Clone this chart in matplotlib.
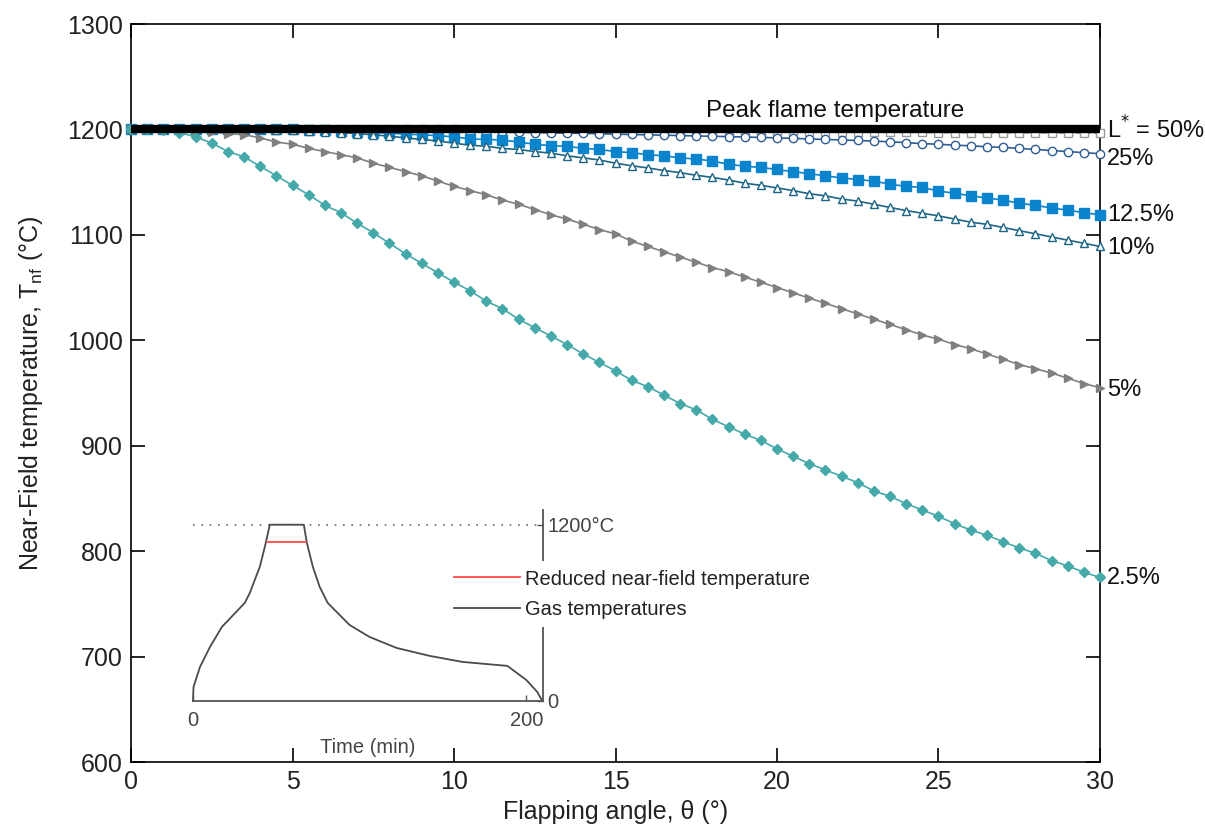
import numpy as np
import matplotlib
matplotlib.use("Agg")
import matplotlib.pyplot as plt
import matplotlib.transforms as mtransforms

plt.rcParams['font.family'] = ['Liberation Sans', 'DejaVu Sans']

# ---------------- data ----------------
theta = np.arange(0, 30.5, 0.5)  # flapping angle (deg), 61 points

T_50 = [1200, 1200, 1200, 1200, 1200, 1200, 1200, 1200, 1200, 1200,
        1200, 1200, 1200, 1200, 1200, 1200, 1200, 1200, 1200, 1200,
        1200, 1199.9, 1199.8, 1199.7, 1199.6, 1199.5, 1199.4, 1199.3, 1199.2, 1199.1,
        1199, 1198.9, 1198.8, 1198.7, 1198.6, 1198.5, 1198.4, 1198.3, 1198.2, 1198.1,
        1198, 1197.9, 1197.8, 1197.7, 1197.6, 1197.5, 1197.4, 1197.3, 1197.2, 1197.1,
        1197, 1196.9, 1196.9, 1196.8, 1196.8, 1196.7, 1196.7, 1196.6, 1196.6, 1196.5,
        1196.5]
T_25 = [1200, 1200, 1200, 1200, 1200, 1200, 1200, 1200, 1200, 1200,
        1200, 1199.8, 1199.6, 1199.4, 1199.2, 1199, 1198.8, 1198.6, 1198.4, 1198.2,
        1198, 1197.8, 1197.6, 1197.4, 1197.2, 1197, 1196.8, 1196.5, 1196.2, 1196,
        1195.5, 1195.2, 1194.8, 1194.5, 1194.2, 1193.8, 1193.5, 1193.2, 1192.8, 1192.4,
        1192, 1191.5, 1191, 1190.5, 1190, 1189.5, 1189, 1188.2, 1187.5, 1186.5,
        1186, 1185, 1184.5, 1183.5, 1183, 1182, 1181, 1180, 1179, 1178,
        1177]
T_125 = [1200, 1200, 1200, 1200, 1200, 1200, 1200, 1200, 1200, 1200,
         1200, 1199.5, 1199, 1198.5, 1198, 1197, 1196.5, 1195.5, 1195, 1194,
         1193, 1191, 1190.5, 1190, 1188, 1186, 1184.5, 1184, 1182, 1181,
         1179, 1178, 1176, 1175, 1173, 1172, 1170, 1167, 1165, 1164,
         1162, 1160, 1158, 1156, 1154, 1152.5, 1151, 1148, 1146, 1145,
         1141.5, 1139.5, 1137, 1135, 1133, 1130, 1128, 1125.5, 1123.5, 1121,
         1119]
T_10 = [1200, 1200, 1200, 1200, 1200, 1200, 1200, 1200, 1200, 1199.5,
        1199, 1198.5, 1198, 1197, 1196, 1195, 1193.5, 1192, 1190.5, 1189,
        1187, 1185, 1184, 1182, 1181, 1179, 1177.5, 1175, 1173, 1171,
        1168, 1165.5, 1163.5, 1161, 1159, 1156.5, 1154.5, 1152, 1149, 1147,
        1144.5, 1142, 1139, 1137, 1134, 1132, 1129, 1126, 1123, 1120.5,
        1118, 1115, 1112, 1110, 1107, 1104, 1101, 1098, 1095, 1092,
        1089]
T_5 = [1200, 1200, 1200, 1199.5, 1198.5, 1197.5, 1196, 1195, 1192, 1188,
       1186, 1182, 1179, 1176, 1173, 1168, 1164, 1160, 1156, 1151,
       1146, 1142, 1138, 1133, 1129, 1124, 1119, 1115, 1110, 1105,
       1101, 1094, 1089, 1084, 1079, 1074, 1069, 1065, 1060, 1055,
       1050, 1045, 1040, 1035, 1030, 1025, 1020, 1015, 1010, 1005,
       1001, 996, 992, 987, 982, 977, 973, 969, 964, 959,
       955]
T_25p = [1200, 1200, 1199.5, 1197, 1193, 1187, 1179, 1174, 1165, 1156,
         1147, 1138, 1128, 1121, 1111, 1102, 1092, 1082, 1073, 1064,
         1055, 1047, 1037, 1030, 1020, 1012, 1004, 996, 987, 979,
         971, 962, 956, 948, 940, 934, 925, 918, 911, 905,
         897, 890, 883, 877, 871, 865, 857, 852, 845, 839,
         833, 826, 820, 815, 809, 803, 798, 791, 786, 780,
         775]

peak_T = 1200
series_labels = ["L$^{*}$ = 50%", "25%", "12.5%", "10%", "5%", "2.5%"]

x_ticks = [0, 5, 10, 15, 20, 25, 30]
y_ticks = [600, 700, 800, 900, 1000, 1100, 1200, 1300]

# inset: gas temperature-time curve
gas_time = [0, 0.3, 4.2, 10.2, 17.4, 31.1, 34.1, 40.1, 43.7, 46.1, 66.5, 68.3,
            71.9, 76.0, 80.8, 93.9, 105.9, 122.2, 142.0, 161.7, 188.6, 200.0,
            206.6, 209.6]
gas_temp = [0, 95, 232, 368, 505, 668, 736, 914, 1077, 1200, 1200, 1077,
            914, 777, 668, 518, 436, 361, 307, 266, 239, 143, 61, 0]
reduced_time = [44.3, 67.7]
reduced_temp = [1085, 1085]

# ---------------- figure ----------------
fig = plt.figure(figsize=(12.05, 8.32), dpi=100)
ax = fig.add_axes([131/1205, 1 - 762/832, (1100-131)/1205, (762-24)/832])

styles = [
    dict(color='#9a9a9a', marker='s', mfc='white', mec='#9a9a9a', ms=6, ls='--'),
    dict(color='#2f5d95', marker='o', mfc='white', mec='#2f5d95', ms=6),
    dict(color='#0a84cc', marker='s', mfc='#0a84cc', mec='#0a84cc', ms=7),
    dict(color='#1d6584', marker='^', mfc='white', mec='#1d6584', ms=6),
    dict(color='#808080', marker='>', mfc='#808080', mec='#808080', ms=5.5),
    dict(color='#45a9a9', marker='D', mfc='#45a9a9', mec='#45a9a9', ms=5),
]
all_series = [T_50, T_25, T_125, T_10, T_5, T_25p]
for ys, st in zip(all_series, styles):
    ax.plot(theta, ys, lw=1.2, mew=1.0, clip_on=False, zorder=3, **st)

ax.plot([theta[0], theta[-1]], [peak_T, peak_T], color='black', lw=6,
        solid_capstyle='butt', zorder=4)
ax.text(17.8, 1207, "Peak flame temperature", fontsize=17.5, color='#111111',
        ha='left', va='bottom')

label_dy = [3, -5, 0, -2, -2, 0]  # small vertical nudges in pixels
for ys, lab, dy in zip(all_series, series_labels, label_dy):
    off = mtransforms.offset_copy(ax.transData, fig=fig, x=7, y=dy, units='dots')
    ax.text(theta[-1], ys[-1], lab, transform=off, fontsize=17, color='#111111',
            ha='left', va='center', clip_on=False)

ax.set_xlim(0, 30)
ax.set_ylim(600, 1300)
ax.set_xticks(x_ticks)
ax.set_yticks(y_ticks)
ax.tick_params(direction='in', length=10, width=1.2, top=True, right=True,
               labelsize=18, labelcolor='#222222', pad=6)
for s in ax.spines.values():
    s.set_linewidth(1.2)
ax.set_xlabel("Flapping angle, θ (°)", fontsize=18, color='#222222', labelpad=4)
ax.set_ylabel("Near-Field temperature, T$_\\mathregular{nf}$ (°C)", fontsize=18,
              color='#222222', labelpad=16)

# ---------------- inset ----------------
ax_in = fig.add_axes([193/1205, 1 - 701/832, (543-193)/1205, (701-510)/832])
ax_in.set_facecolor('none')
ax_in.plot(gas_time, gas_temp, color='#4a4a4a', lw=1.3, label='Gas temperatures',
           clip_on=False)
ax_in.plot(reduced_time, reduced_temp, color='#ff4a4a', lw=1.3,
           label='Reduced near-field temperature', clip_on=False)
ax_in.axhline(1200, color='#666666', lw=1.2, ls=(0, (1, 4)))
ax_in.set_xlim(0, 210)
ax_in.set_ylim(0, 1300)
ax_in.spines['top'].set_visible(False)
ax_in.spines['left'].set_visible(False)
ax_in.spines['bottom'].set_color('#555555')
ax_in.spines['right'].set_color('#555555')
ax_in.spines['bottom'].set_linewidth(1.3)
ax_in.spines['right'].set_linewidth(1.3)
ax_in.set_xticks([0, 200])
ax_in.set_yticks([0, 1200])
ax_in.set_yticklabels(["0", "1200°C"])
ax_in.yaxis.tick_right()
ax_in.tick_params(axis='both', direction='in', length=4, width=1.0,
                  colors='#555555', labelsize=14.5, labelcolor='#444444', pad=3)
ax_in.tick_params(axis='x', bottom=True, top=False, pad=7)
ax_in.tick_params(axis='y', left=False, right=True)
ax_in.set_xlabel("Time (min)", fontsize=14.5, color='#444444', labelpad=6)

h, l = ax_in.get_legend_handles_labels()
leg = ax_in.legend(h[::-1], l[::-1], loc='center left',
                   bbox_to_anchor=(0.722, 0.56), fontsize=14.5, frameon=True,
                   facecolor='white', edgecolor='none', framealpha=1,
                   handlelength=3.3, handletextpad=0.25, labelspacing=0.55,
                   borderpad=0.4, borderaxespad=0)
for t in leg.get_texts():
    t.set_color('#222222')

fig.savefig("out.png", dpi=100)
